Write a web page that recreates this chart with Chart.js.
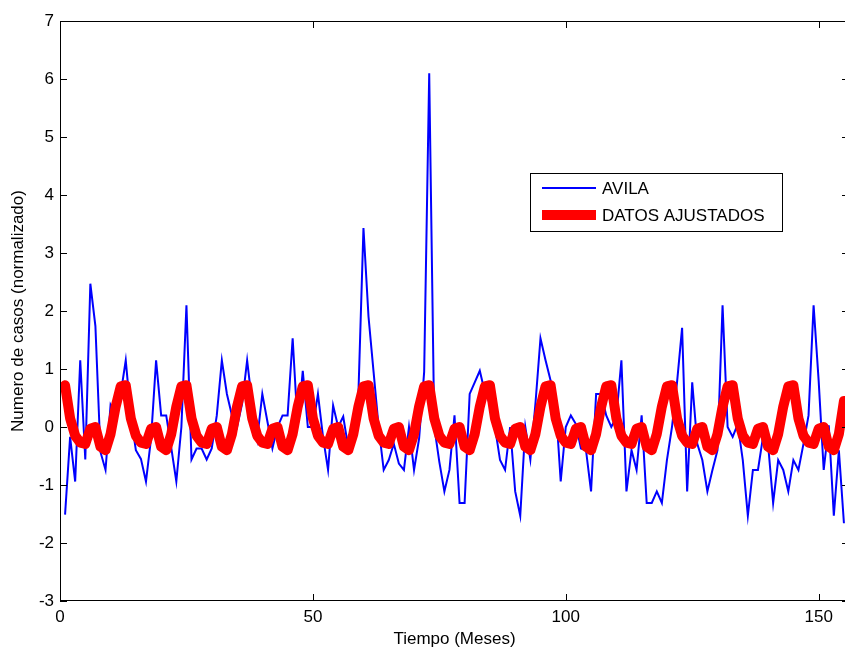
<!DOCTYPE html>
<html>
<head>
<meta charset="utf-8">
<script src="https://cdn.jsdelivr.net/npm/chart.js@4/dist/chart.umd.min.js"></script>
<style>
  html, body { margin: 0; padding: 0; overflow: hidden; background: #fff; }
  #wrap { width: 850px; height: 650px; }
</style>
</head>
<body>
<div id="wrap"><canvas id="chart" width="850" height="650"></canvas></div>
<script>
// normalized monthly cases, months 1..155
const avila = [
  -1.51, -0.17, -0.94, 1.15, -0.56, 2.47, 1.74, -0.43, -0.74, 0.38, 0.2, 0.57,
  1.15, 0.2, -0.4, -0.55, -0.94, -0.2, 1.15, 0.2, 0.2, -0.36, -0.94, 0.0,
  2.1, -0.56, -0.37, -0.37, -0.56, -0.37, 0.2, 1.15, 0.57, 0.2, 0.0, 0.4,
  1.15, 0.4, -0.2, 0.57, 0.1, -0.37, 0.0, 0.2, 0.2, 1.53, 0.0, 0.97,
  0.0, 0.0, 0.57, -0.17, -0.74, 0.37, 0.0, 0.18, -0.36, -0.2, 0.57, 3.43,
  1.9, 0.95, 0.0, -0.74, -0.57, -0.29, -0.63, -0.74, 0.0, -0.74, -0.2, 0.95,
  6.1, 0.0, -0.6, -1.11, -0.74, 0.2, -1.31, -1.31, 0.57, 0.77, 0.97, 0.6,
  0.4, 0.0, -0.57, -0.74, 0.0, -1.11, -1.53, 0.0, -0.56, 0.4, 1.53, 1.15,
  0.8, 0.4, -0.94, 0.0, 0.2, 0.05, -0.37, -0.4, -1.11, 0.57, 0.57, 0.2,
  0.0, 0.17, 1.15, -1.11, -0.4, -0.74, 0.2, -1.31, -1.31, -1.11, -1.31, -0.57,
  0.0, 0.77, 1.71, -1.11, 0.77, -0.29, -0.57, -1.11, -0.74, -0.4, 2.1, 0.0,
  -0.17, 0.05, -0.57, -1.53, -0.74, -0.74, -0.17, -0.3, -1.31, -0.57, -0.74, -1.11,
  -0.57, -0.74, -0.29, 0.2, 2.1, 0.8, -0.74, 0.03, -1.53, -0.4, -1.66
];

// fitted seasonal curve, same months
const ajustados = [
  0.72, 0.15, -0.15, -0.27, -0.29, -0.03, 0.0, -0.34, -0.4, -0.12, 0.35, 0.7,
  0.72, 0.15, -0.15, -0.27, -0.29, -0.03, 0.0, -0.34, -0.4, -0.12, 0.35, 0.7,
  0.72, 0.15, -0.15, -0.27, -0.29, -0.03, 0.0, -0.34, -0.4, -0.12, 0.35, 0.7,
  0.72, 0.15, -0.15, -0.27, -0.29, -0.03, 0.0, -0.34, -0.4, -0.12, 0.35, 0.7,
  0.72, 0.15, -0.15, -0.27, -0.29, -0.03, 0.0, -0.34, -0.4, -0.12, 0.35, 0.7,
  0.72, 0.15, -0.15, -0.27, -0.29, -0.03, 0.0, -0.34, -0.4, -0.12, 0.35, 0.7,
  0.72, 0.15, -0.15, -0.27, -0.29, -0.03, 0.0, -0.34, -0.4, -0.12, 0.35, 0.7,
  0.72, 0.15, -0.15, -0.27, -0.29, -0.03, 0.0, -0.34, -0.4, -0.12, 0.35, 0.7,
  0.72, 0.15, -0.15, -0.27, -0.29, -0.03, 0.0, -0.34, -0.4, -0.12, 0.35, 0.7,
  0.72, 0.15, -0.15, -0.27, -0.29, -0.03, 0.0, -0.34, -0.4, -0.12, 0.35, 0.7,
  0.72, 0.15, -0.15, -0.27, -0.29, -0.03, 0.0, -0.34, -0.4, -0.12, 0.35, 0.7,
  0.72, 0.15, -0.15, -0.27, -0.29, -0.03, 0.0, -0.34, -0.4, -0.12, 0.35, 0.7,
  0.72, 0.15, -0.15, -0.27, -0.29, -0.03, 0.0, -0.34, -0.4, -0.12, 0.45
];

const months = avila.map((_, i) => i + 1);
const xTicks = [0, 50, 100, 150];
const yTicks = [-3, -2, -1, 0, 1, 2, 3, 4, 5, 6, 7];

const FONT = "'Liberation Sans', Arial, sans-serif";
const FSIZE = 17;

const frame = {
  id: "frame",
  afterDatasetsDraw(chart) {
    const { ctx, chartArea: a, scales } = chart;
    ctx.save();
    ctx.strokeStyle = "#000";
    ctx.lineWidth = 1;
    ctx.strokeRect(a.left + 0.5, a.top + 0.5, a.right - a.left - 1, a.bottom - a.top - 1);

    // inward ticks like matlab
    ctx.beginPath();
    xTicks.forEach((v) => {
      const px = Math.round(scales.x.getPixelForValue(v)) + 0.5;
      ctx.moveTo(px, a.bottom);
      ctx.lineTo(px, a.bottom - 7);
      ctx.moveTo(px, a.top);
      ctx.lineTo(px, a.top + 7);
    });
    yTicks.forEach((v) => {
      const py = Math.round(scales.y.getPixelForValue(v)) + 0.5;
      ctx.moveTo(a.left, py);
      ctx.lineTo(a.left + 7, py);
      ctx.moveTo(a.right, py);
      ctx.lineTo(a.right - 7, py);
    });
    ctx.stroke();

    // legend box
    const bx = 530, by = 173, bw = 252, bh = 58;
    ctx.fillStyle = "#fff";
    ctx.fillRect(bx, by, bw, bh);
    ctx.strokeRect(bx + 0.5, by + 0.5, bw, bh);
    ctx.font = FSIZE + "px " + FONT;
    ctx.textBaseline = "middle";
    chart.data.datasets.forEach((ds, i) => {
      const yy = by + 15 + i * 27;
      ctx.beginPath();
      ctx.strokeStyle = ds.borderColor;
      ctx.lineWidth = ds.borderWidth;
      ctx.lineCap = "butt";
      ctx.moveTo(542, yy);
      ctx.lineTo(596, yy);
      ctx.stroke();
      ctx.fillStyle = "#000";
      ctx.fillText(ds.label, 602, yy + 1);
    });
    ctx.restore();
  },
};

new Chart(document.getElementById("chart"), {
  type: "line",
  data: {
    datasets: [
      {
        label: "AVILA",
        data: months.map((m, i) => ({ x: m, y: avila[i] })),
        borderColor: "#0000ff",
        borderWidth: 2,
        pointRadius: 0,
        tension: 0,
        order: 1,
      },
      {
        label: "DATOS AJUSTADOS",
        data: months.map((m, i) => ({ x: m, y: ajustados[i] })),
        borderColor: "#ff0000",
        borderWidth: 10,
        borderJoinStyle: "round",
        borderCapStyle: "round",
        pointRadius: 0,
        tension: 0,
        order: 0,
      },
    ],
  },
  options: {
    responsive: false,
    animation: false,
    events: [],
    layout: {
      padding: { top: 21, right: 1, left: 0, bottom: 0 },
    },
    plugins: {
      legend: { display: false },
      tooltip: { enabled: false },
    },
    scales: {
      x: {
        type: "linear",
        min: 0,
        max: 156,
        afterBuildTicks: (scale) => {
          scale.ticks = xTicks.map((v) => ({ value: v }));
        },
        afterFit: (scale) => {
          scale.height = 49;
        },
        ticks: {
          color: "#000",
          padding: 6,
          maxRotation: 0,
          font: { size: FSIZE, family: FONT },
        },
        grid: { display: false, drawTicks: false },
        border: { display: false },
        title: {
          display: true,
          text: "Tiempo (Meses)",
          color: "#000",
          padding: { top: 2, bottom: 0 },
          font: { size: FSIZE, family: FONT },
        },
      },
      y: {
        min: -3,
        max: 7,
        afterBuildTicks: (scale) => {
          scale.ticks = yTicks.map((v) => ({ value: v }));
        },
        afterFit: (scale) => {
          scale.width = 60;
        },
        ticks: {
          color: "#000",
          padding: 6,
          font: { size: FSIZE, family: FONT },
        },
        grid: { display: false, drawTicks: false },
        border: { display: false },
        title: {
          display: true,
          text: "Numero de casos (normalizado)",
          color: "#000",
          padding: { top: 8, bottom: 0 },
          font: { size: FSIZE, family: FONT },
        },
      },
    },
  },
  plugins: [frame],
});
</script>
</body>
</html>
